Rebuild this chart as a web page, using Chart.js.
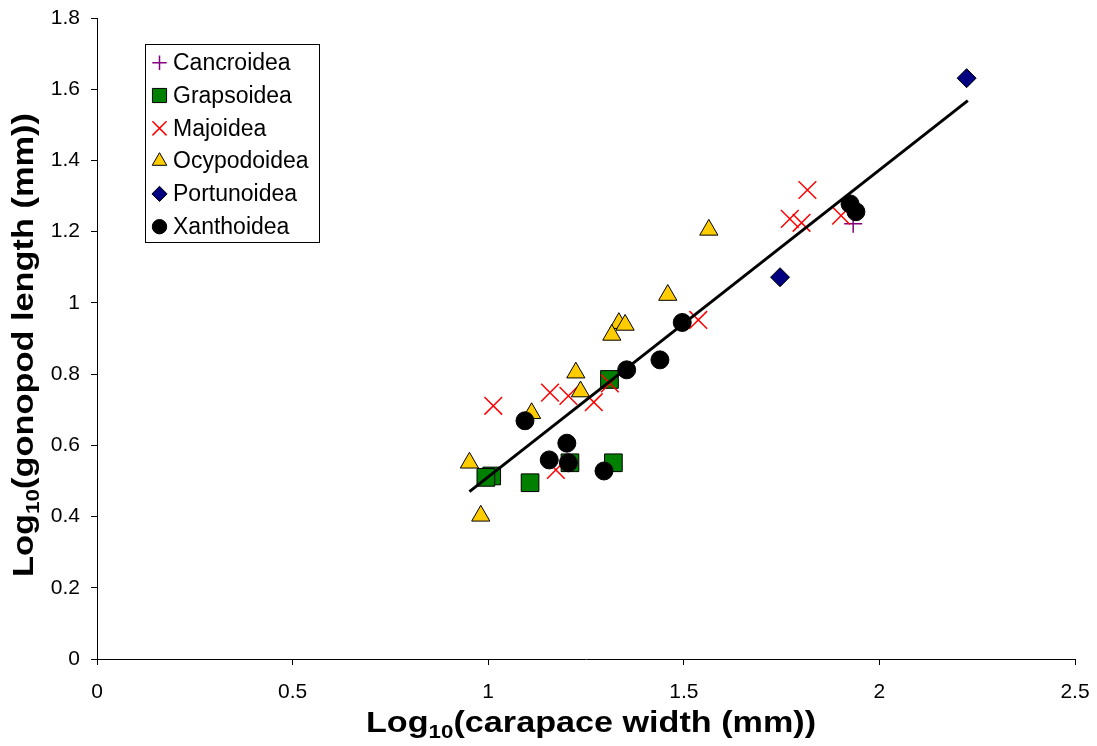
<!DOCTYPE html>
<html>
<head>
<meta charset="utf-8">
<script src="https://cdn.jsdelivr.net/npm/chart.js@4/dist/chart.umd.min.js"></script>
<style>
  html, body { margin: 0; padding: 0; background: #fff; }
  #grafico { display: block; }
</style>
</head>
<body>
<canvas id="grafico" width="1097" height="746"></canvas>
<script>
// valores (log10 da largura da carapaca, log10 do comprimento do gonopodio)
const cancroX = [1.933];
const cancroY = [1.222];

const grapsoX = [1.310, 1.009, 0.994, 1.107, 1.209, 1.320];
const grapsoY = [0.785, 0.514, 0.510, 0.495, 0.551, 0.551];

const majoX = [1.013, 1.158, 1.205, 1.270, 1.311, 1.173, 1.537, 1.816, 1.771, 1.801, 1.902];
const majoY = [0.711, 0.748, 0.739, 0.721, 0.774, 0.531, 0.952, 1.317, 1.236, 1.225, 1.245];

const ocypoX = [1.459, 1.334, 1.350, 1.316, 1.224, 1.236, 1.111, 0.952, 0.981, 1.564];
const ocypoY = [1.022, 0.943, 0.938, 0.910, 0.804, 0.751, 0.690, 0.551, 0.402, 1.205];

const portX = [2.223, 1.746];
const portY = [1.631, 1.072];

const xanthoX = [1.496, 1.354, 1.439, 1.094, 1.201, 1.156, 1.205, 1.296, 1.925, 1.940];
const xanthoY = [0.945, 0.812, 0.840, 0.669, 0.606, 0.559, 0.551, 0.528, 1.278, 1.256];

const tendX = [0.952, 2.226];
const tendY = [0.470, 1.568];

const nomes = ["Cancroidea", "Grapsoidea", "Majoidea", "Ocypodoidea", "Portunoidea", "Xanthoidea"];

function pontos(xs, ys) {
    return xs.map((x, i) => ({ x: x, y: ys[i] }));
}

const estilos = [
    { pointStyle: "cross", pointRadius: 9, backgroundColor: "#800080", borderColor: "#800080", borderWidth: 1.5 },
    { pointStyle: "rect", pointRadius: 12.5, backgroundColor: "#008000", borderColor: "#000", borderWidth: 1 },
    { pointStyle: "crossRot", pointRadius: 12.5, backgroundColor: "#ff0000", borderColor: "#ff0000", borderWidth: 1.5 },
    { pointStyle: "triangle", pointRadius: 10.5, backgroundColor: "#ffcc00", borderColor: "#000", borderWidth: 1 },
    { pointStyle: "rectRot", pointRadius: 9.5, backgroundColor: "#000080", borderColor: "#000", borderWidth: 1 },
    { pointStyle: "circle", pointRadius: 9, backgroundColor: "#000", borderColor: "#000", borderWidth: 1 }
];

const series = [
    pontos(cancroX, cancroY),
    pontos(grapsoX, grapsoY),
    pontos(majoX, majoY),
    pontos(ocypoX, ocypoY),
    pontos(portX, portY),
    pontos(xanthoX, xanthoY)
];

const datasets = series.map((d, i) => Object.assign({
    label: nomes[i],
    data: d,
    order: 6 - i,
    clip: false
}, estilos[i]));

datasets.push({
    label: "Tendencia",
    data: pontos(tendX, tendY),
    showLine: true,
    pointRadius: 0,
    borderColor: "#000",
    borderWidth: 3,
    order: 0
});

// marcador da legenda
function desenharMarcador(ctx, est, x, y, r) {
    ctx.save();
    ctx.fillStyle = est.backgroundColor;
    ctx.strokeStyle = est.borderColor;
    ctx.lineWidth = est.borderWidth;
    ctx.beginPath();
    if (est.pointStyle === "cross") {
        ctx.moveTo(x - r, y); ctx.lineTo(x + r, y);
        ctx.moveTo(x, y - r); ctx.lineTo(x, y + r);
        ctx.stroke();
    } else if (est.pointStyle === "crossRot") {
        const d = r * Math.SQRT1_2;
        ctx.moveTo(x - d, y - d); ctx.lineTo(x + d, y + d);
        ctx.moveTo(x - d, y + d); ctx.lineTo(x + d, y - d);
        ctx.stroke();
    } else if (est.pointStyle === "rect") {
        const d = r * Math.SQRT1_2;
        ctx.rect(x - d, y - d, 2 * d, 2 * d);
        ctx.fill(); ctx.stroke();
    } else if (est.pointStyle === "triangle") {
        ctx.moveTo(x, y - r);
        ctx.lineTo(x + r * 0.866, y + r / 2);
        ctx.lineTo(x - r * 0.866, y + r / 2);
        ctx.closePath();
        ctx.fill(); ctx.stroke();
    } else if (est.pointStyle === "rectRot") {
        ctx.moveTo(x, y - r); ctx.lineTo(x + r, y);
        ctx.lineTo(x, y + r); ctx.lineTo(x - r, y);
        ctx.closePath();
        ctx.fill(); ctx.stroke();
    } else {
        ctx.arc(x, y, r, 0, Math.PI * 2);
        ctx.fill(); ctx.stroke();
    }
    ctx.restore();
}

// texto com indice "10", esticado ate a largura pedida
function textoIndice(ctx, partes, x, y, rodar, largura) {
    const fGrande = "bold 29px 'Liberation Sans', Arial, sans-serif";
    const fPeq = "bold 19px 'Liberation Sans', Arial, sans-serif";
    ctx.save();
    ctx.font = fGrande;
    const w1 = ctx.measureText(partes[0]).width;
    const w3 = ctx.measureText(partes[2]).width;
    ctx.font = fPeq;
    const w2 = ctx.measureText(partes[1]).width;
    const total = w1 + w2 + w3;
    ctx.translate(x, y);
    if (rodar) ctx.rotate(-Math.PI / 2);
    ctx.scale(largura / total, 1);
    ctx.fillStyle = "#000";
    ctx.textBaseline = "alphabetic";
    ctx.textAlign = "left";
    let px = -total / 2;
    ctx.font = fGrande;
    ctx.fillText(partes[0], px, 0);
    px += w1;
    ctx.font = fPeq;
    ctx.fillText(partes[1], px, 6);
    px += w2;
    ctx.font = fGrande;
    ctx.fillText(partes[2], px, 0);
    ctx.restore();
}

const extras = {
    id: "extras",
    afterDraw(chart) {
        const ctx = chart.ctx;

        textoIndice(ctx, ["Log", "10", "(carapace width (mm))"], 591, 732, false, 450);
        textoIndice(ctx, ["Log", "10", "(gonopod length (mm))"], 33, 345, true, 464);

        // legenda
        ctx.save();
        ctx.fillStyle = "#fff";
        ctx.fillRect(146, 44, 174, 198);
        ctx.strokeStyle = "#000";
        ctx.lineWidth = 1;
        ctx.strokeRect(145.5, 44.5, 174, 198);
        ctx.font = "23px 'Liberation Sans', Arial, sans-serif";
        ctx.textBaseline = "middle";
        ctx.textAlign = "left";
        nomes.forEach((n, i) => {
            const yy = 62.7 + i * 32.8;
            desenharMarcador(ctx, estilos[i], 159.5, yy, estilos[i].pointRadius * 0.8);
            ctx.fillStyle = "#000";
            ctx.fillText(n, 173, yy + 1);
        });
        ctx.restore();
    }
};

const formatar = v => String(Number(v.toFixed(1)));

new Chart(document.getElementById("grafico"), {
    type: "scatter",
    data: { datasets: datasets },
    options: {
        responsive: false,
        animation: false,
        layout: { padding: { left: 0, top: 18, right: 22, bottom: 0 } },
        plugins: {
            legend: { display: false },
            tooltip: { enabled: false }
        },
        scales: {
            x: {
                type: "linear",
                min: 0,
                max: 2.5,
                afterFit: s => {
                    s.height = 87;
                    s.paddingLeft = 0;
                    s.paddingRight = 0;
                },
                ticks: {
                    stepSize: 0.5,
                    color: "#000",
                    padding: 15,
                    maxRotation: 0,
                    callback: formatar,
                    font: { family: "'Liberation Sans', Arial, sans-serif", size: 21 }
                },
                grid: { drawOnChartArea: false, drawTicks: true, tickLength: 6, color: "#000" },
                border: { color: "#000", width: 1 }
            },
            y: {
                type: "linear",
                min: 0,
                max: 1.8,
                afterFit: s => {
                    s.width = 97;
                    s.paddingTop = 0;
                    s.paddingBottom = 0;
                },
                ticks: {
                    stepSize: 0.2,
                    color: "#000",
                    padding: 11,
                    callback: formatar,
                    font: { family: "'Liberation Sans', Arial, sans-serif", size: 21 }
                },
                grid: { drawOnChartArea: false, drawTicks: true, tickLength: 6, color: "#000" },
                border: { color: "#000", width: 1 }
            }
        }
    },
    plugins: [extras]
});
</script>
</body>
</html>
